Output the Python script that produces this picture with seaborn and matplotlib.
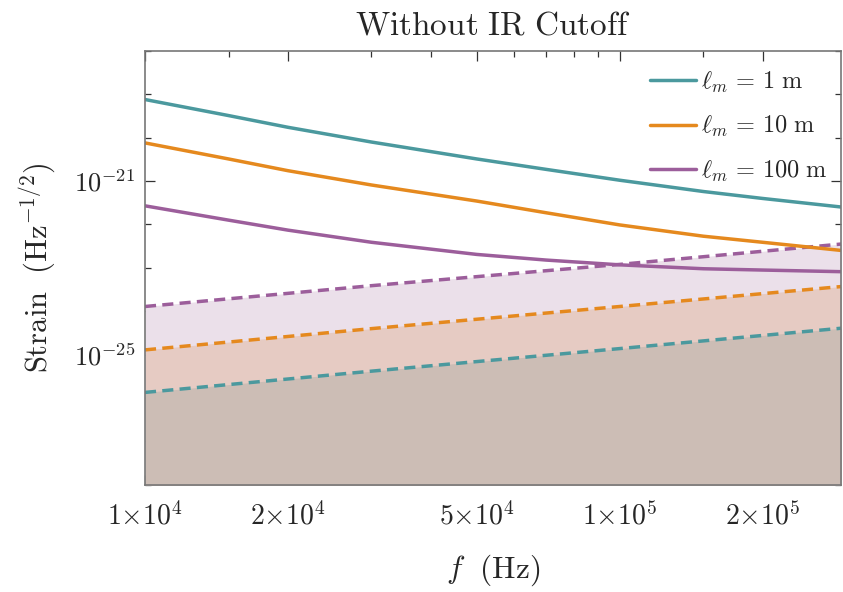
import numpy as np
import pandas as pd
import matplotlib
matplotlib.use("Agg")
import matplotlib.pyplot as plt
import seaborn as sns
from matplotlib.ticker import FixedLocator, NullFormatter, FixedFormatter

# ---- data ----
freq = [1e4, 1.5e4, 2e4, 3e4, 5e4, 7e4, 1e5, 1.5e5, 2e5, 3e5]
# log10 of strain for the solid curves
sig_1m_exp = [-19.12, -19.49, -19.76, -20.10, -20.49, -20.73, -20.98, -21.24, -21.40, -21.61]
sig_10m_exp = [-20.12, -20.49, -20.76, -21.09, -21.46, -21.73, -22.01, -22.27, -22.41, -22.61]
sig_100m_exp = [-21.57, -21.90, -22.13, -22.41, -22.69, -22.82, -22.93, -23.02, -23.05, -23.09]
# dashed (noise floor) curves
floor_freq = [1e4, 3e4, 1e5, 3e5]
floor_1m_exp = [-25.87, -25.38, -24.86, -24.38]
floor_10m_exp = [-24.89, -24.40, -23.89, -23.42]
floor_100m_exp = [-23.89, -23.41, -22.92, -22.44]

labels = [r"$\ell_m\,=\,1\ \mathrm{m}$", r"$\ell_m\,=\,10\ \mathrm{m}$", r"$\ell_m\,=\,100\ \mathrm{m}$"]
colors = ["#4b999e", "#e5891e", "#9c5e9b"]
fill_colors = ["#ccbdb5", "#e6cbc3", "#ebe0ea"]

xticks_major = [1e4, 2e4, 5e4, 1e5, 2e5]
xtick_labels = [r"$1{\times}10^4$", r"$2{\times}10^4$", r"$5{\times}10^4$", r"$1{\times}10^5$", r"$2{\times}10^5$"]
xticks_minor = [1.5e4, 3e4, 4e4, 6e4, 7e4, 8e4, 9e4, 1.5e5, 3e5]
yticks_major = [1e-21, 1e-25]
ytick_labels = [r"$10^{-21}$", r"$10^{-25}$"]
yticks_minor = [1e-28, 1e-27, 1e-26, 1e-24, 1e-23, 1e-22, 1e-20, 1e-19, 1e-18]

# ---- style ----
sns.set_theme(style="ticks")
plt.rcParams["mathtext.fontset"] = "cm"
plt.rcParams["font.family"] = ["DejaVu Serif"]

fig = plt.figure(figsize=(8.43, 5.92), dpi=100)
ax = fig.add_axes([0.172, 0.181, 0.826, 0.733])
ax.set_xscale("log")
ax.set_yscale("log")

sig_sets = [sig_1m_exp, sig_10m_exp, sig_100m_exp]
floor_sets = [floor_1m_exp, floor_10m_exp, floor_100m_exp]

# fills (draw widest first)
ff = np.array(floor_freq)
for i in [2, 1, 0]:
    fy = 10.0 ** np.array(floor_sets[i])
    ax.fill_between(ff, 1e-30, fy, color=fill_colors[i], lw=0, zorder=1)

# dashed floor lines
for i in [2, 1, 0]:
    df = pd.DataFrame({"f": floor_freq, "h": 10.0 ** np.array(floor_sets[i])})
    sns.lineplot(data=df, x="f", y="h", ax=ax, color=colors[i], lw=2.5, zorder=3)
    ax.lines[-1].set_dashes([3.2, 1.8])

# solid signal lines
for i in range(3):
    df = pd.DataFrame({"f": freq, "h": 10.0 ** np.array(sig_sets[i])})
    sns.lineplot(data=df, x="f", y="h", ax=ax, color=colors[i], lw=2.5, label=labels[i], zorder=4)

ax.set_xlim(1e4, 2.93e5)
ax.set_ylim(1e-28, 1e-18)

ax.xaxis.set_major_locator(FixedLocator(xticks_major))
ax.xaxis.set_major_formatter(FixedFormatter(xtick_labels))
ax.xaxis.set_minor_locator(FixedLocator(xticks_minor))
ax.xaxis.set_minor_formatter(NullFormatter())
ax.yaxis.set_major_locator(FixedLocator(yticks_major))
ax.yaxis.set_major_formatter(FixedFormatter(ytick_labels))
ax.yaxis.set_minor_locator(FixedLocator(yticks_minor))
ax.yaxis.set_minor_formatter(NullFormatter())

ax.tick_params(which="both", direction="in", top=True, right=True, color="#333333", width=0.9)
ax.tick_params(which="major", length=7, labelsize=20, pad=12)
ax.tick_params(which="minor", length=4.5)
ax.tick_params(axis="y", which="major", labelsize=19, pad=7)
for sp in ax.spines.values():
    sp.set_color("#777777")
    sp.set_linewidth(1.2)
    sp.set_zorder(6)

ax.set_xlabel(r"$f\ \ (\mathrm{Hz})$", fontsize=22.5, labelpad=16)
ax.set_ylabel(r"$\mathrm{Strain}\ \ (\mathrm{Hz}^{-1/2})$", fontsize=22, labelpad=12)
ax.set_title(r"$\mathrm{Without\ IR\ Cutoff}$", fontsize=24, pad=12)

leg = ax.legend(loc="upper right", bbox_to_anchor=(0.98, 0.957), frameon=False, fontsize=17.5,
                handlelength=1.9, handletextpad=0.2, labelspacing=0.8,
                borderaxespad=0.0, borderpad=0.0)

fig.savefig("out.png", dpi=100)
